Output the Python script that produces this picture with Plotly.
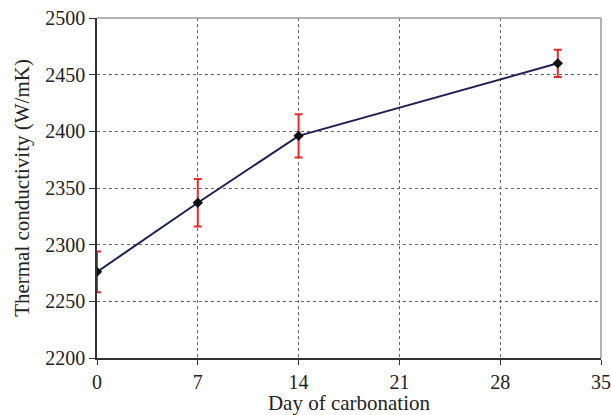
import plotly.graph_objects as go

days = [0, 7, 14, 32]
conductivity = [2276, 2337, 2396, 2460]
error = [18, 21, 19, 12]

x_ticks = [0, 7, 14, 21, 28, 35]
y_ticks = [2200, 2250, 2300, 2350, 2400, 2450, 2500]

x_title = "Day of carbonation"
y_title = "Thermal conductivity (W/mK)"

font = "'Liberation Serif', 'Times New Roman', serif"

fig = go.Figure()
fig.add_trace(go.Scatter(
    x=days, y=conductivity,
    mode="lines+markers",
    line=dict(color="#1f1f55", width=2),
    marker=dict(symbol="diamond", size=8, color="#111111"),
    error_y=dict(type="data", array=error, visible=True,
                 color="#e8292a", thickness=2, width=4),
    showlegend=False,
))

fig.add_shape(type="line", xref="paper", yref="paper", x0=0, x1=1, y0=1, y1=1,
              line=dict(color="#9a9a9a", width=1.5))
fig.add_shape(type="line", xref="paper", yref="paper", x0=1, x1=1, y0=0, y1=1,
              line=dict(color="#9a9a9a", width=1.5))

fig.update_layout(
    width=611, height=415,
    margin=dict(l=97, r=10, t=18, b=57),
    plot_bgcolor="white", paper_bgcolor="white",
    font=dict(family=font, size=20, color="#222222"),
    xaxis=dict(
        range=[0, 35], tickvals=x_ticks, ticktext=[str(v) for v in x_ticks],
        tickfont=dict(family=font, size=20, color="#222222"),
        ticklabeloverflow="allow",
        showgrid=True, gridcolor="#666666", griddash="dot", gridwidth=1,
        showline=True, linecolor="#333333", linewidth=1.5,
        ticks="outside", ticklen=5, tickcolor="#333333",
        title=dict(text=x_title, standoff=1, font=dict(family=font, size=21, color="#222222")),
        zeroline=False, automargin=False,
    ),
    yaxis=dict(
        range=[2200, 2500], tickvals=y_ticks, ticktext=[str(v) for v in y_ticks],
        tickfont=dict(family=font, size=20, color="#222222"),
        showgrid=True, gridcolor="#666666", griddash="dot", gridwidth=1,
        showline=True, linecolor="#333333", linewidth=1.5,
        ticks="outside", ticklen=6, tickcolor="#333333",
        title=dict(text=y_title, standoff=10, font=dict(family=font, size=21, color="#222222")),
        zeroline=False, automargin=False,
    ),
)

fig.write_html("out.html", config={"displayModeBar": False},
               post_script="document.body.style.margin='0';")
